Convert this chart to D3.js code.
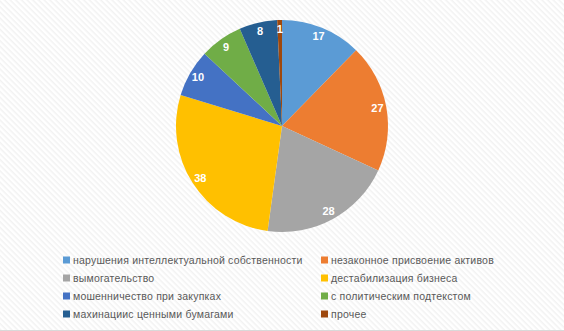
<!DOCTYPE html>
<html>
<head>
<meta charset="utf-8">
<script src="https://cdn.jsdelivr.net/npm/d3@7"></script>
<style>
  body { margin: 0; background: #fff; }
  svg { display: block; }
</style>
</head>
<body>
<div id="chart-area"></div>
<script>
const categories = [
  "нарушения интеллектуальной собственности",
  "незаконное присвоение активов",
  "вымогательство",
  "дестабилизация бизнеса",
  "мошенничество при закупках",
  "с политическим подтекстом",
  "махинациис ценными бумагами",
  "прочее"
];
const values = [17, 27, 28, 38, 10, 9, 8, 1];
const colors = ["#5B9BD5", "#ED7D31", "#A5A5A5", "#FFC000", "#4472C4", "#70AD47", "#255E91", "#9E480E"];

const width = 564;
const height = 331;
const cx = 282, cy = 126, radius = 106;

const svg = d3.select("#chart-area")
  .append("svg")
    .attr("width", width)
    .attr("height", height);

// faint diagonal hatch like the office chart area
const defs = svg.append("defs");
const pat = defs.append("pattern")
  .attr("id", "hatch")
  .attr("width", 4)
  .attr("height", 4)
  .attr("patternUnits", "userSpaceOnUse")
  .attr("patternTransform", "rotate(45)");
pat.append("rect").attr("width", 4).attr("height", 4).attr("fill", "#fff");
pat.append("rect").attr("width", 4).attr("height", 1.5).attr("fill", "#f2f2f2");

svg.append("rect")
  .attr("width", width)
  .attr("height", height)
  .attr("fill", "url(#hatch)");

svg.append("line")
  .attr("x1", 0).attr("x2", width)
  .attr("y1", 330.5).attr("y2", 330.5)
  .attr("stroke", "#d9d9d9");

const pie = d3.pie().sort(null).value(d => d);
const arcs = pie(values);

const arc = d3.arc().innerRadius(0).outerRadius(radius);
const labelArc = d3.arc().innerRadius(radius - 9).outerRadius(radius - 9);

const g = svg.append("g")
  .attr("transform", `translate(${cx}, ${cy})`);

g.selectAll("path")
  .data(arcs)
  .enter()
  .append("path")
    .attr("d", arc)
    .attr("fill", (d, i) => colors[i]);

g.selectAll("text")
  .data(arcs)
  .enter()
  .append("text")
    .attr("transform", d => `translate(${labelArc.centroid(d)})`)
    .attr("text-anchor", "middle")
    .attr("dy", "0.35em")
    .attr("font-family", "Liberation Sans, Arial, sans-serif")
    .attr("font-size", "11px")
    .attr("font-weight", "bold")
    .attr("fill", "#fff")
    .text(d => d.data);

// legend, two columns
const legend = svg.append("g");
const item = legend.selectAll("g")
  .data(categories)
  .enter()
  .append("g")
    .attr("transform", (d, i) => `translate(${i % 2 === 0 ? 63 : 321}, ${260 + Math.floor(i / 2) * 18})`);

item.append("rect")
  .attr("x", 0)
  .attr("y", -3.5)
  .attr("width", 7)
  .attr("height", 7)
  .attr("fill", (d, i) => colors[i]);

item.append("text")
  .attr("x", 10)
  .attr("dy", "0.35em")
  .attr("font-family", "Liberation Sans, Arial, sans-serif")
  .attr("font-size", "10.5px")
  .attr("letter-spacing", "0.2px")
  .attr("fill", "#595959")
  .text(d => d);
</script>
</body>
</html>
